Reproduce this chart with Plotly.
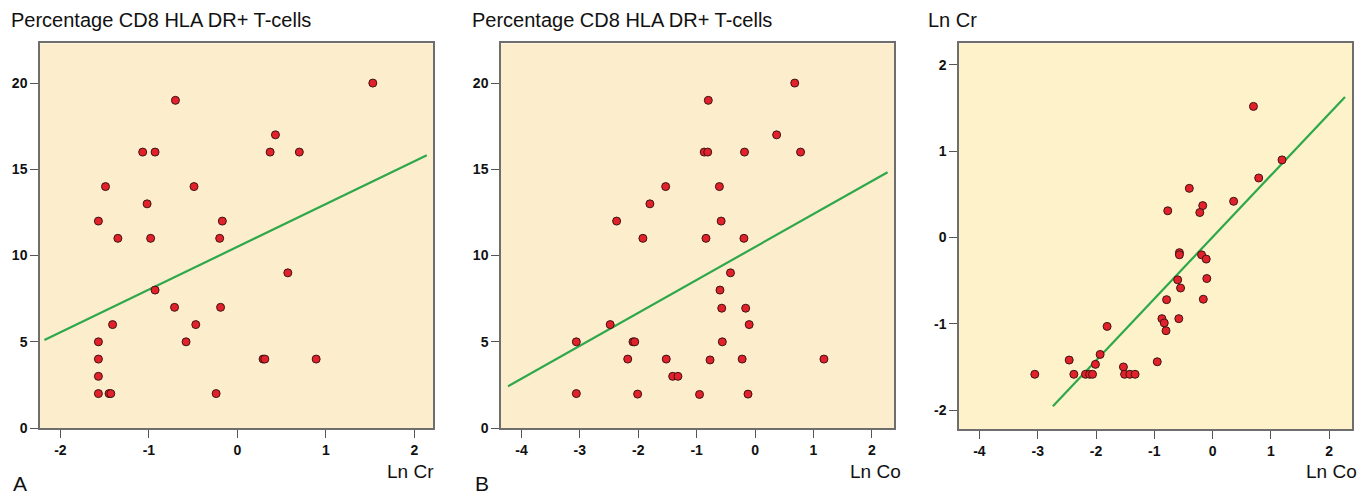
import plotly.graph_objects as go

# The page body adds an 8 px offset, so the figure is drawn 8 px smaller and
# every screen position is converted with that offset.
OFF = 8
W, H = 1371 - OFF, 502 - OFF

# ---------------- data ----------------
# Panel A: Ln Cr vs percentage CD8 HLA DR+ T-cells
a_x = [1.53, -0.70, 0.43, -1.07, -0.93, 0.37, 0.70, -1.49, -0.49, -1.02, -1.57, -0.17,
       -1.35, -0.98, -0.20, 0.57, -0.93, -0.71, -0.19, -1.41, -0.47, -1.57, -0.58, -1.57,
       0.29, 0.31, 0.89, -1.57, -1.57, -1.45, -1.43, -0.24]
a_y = [20, 19, 17, 16, 16, 16, 16, 14, 14, 13, 12, 12,
       11, 11, 11, 9, 8, 7, 7, 6, 6, 5, 5, 4,
       4, 4, 4, 3, 2, 2, 2, 2]
a_fit_x = [-2.18, 2.14]
a_fit_y = [5.10, 15.82]

# Panel B: Ln Co vs percentage CD8 HLA DR+ T-cells
b_x = [0.68, -0.80, 0.37, -0.87, -0.81, -0.18, 0.78, -1.53, -0.61, -1.80, -2.37, -0.58,
       -1.92, -0.84, -0.19, -0.42, -0.60, -0.57, -0.16, -0.10, -2.48, -3.06, -2.09, -2.06,
       -0.56, -2.18, -1.52, -0.77, -0.22, 1.18, -1.41, -1.32, -3.06, -2.01, -0.95, -0.12]
b_y = [20, 19, 17, 16, 16, 16, 16, 14, 14, 13, 12, 12,
       11, 11, 11, 9, 8, 6.95, 6.95, 6, 6, 5, 5, 5,
       5, 4, 4, 3.95, 4, 4, 3, 3, 2, 1.97, 1.95, 1.97]
b_fit_x = [-4.23, 2.27]
b_fit_y = [2.42, 14.83]

# Panel C: Ln Co vs Ln Cr
c_x = [0.70, 1.19, 0.79, -0.40, 0.36, -0.17, -0.77, -0.22, -0.57, -0.57, -0.19, -0.11,
       -0.60, -0.10, -0.55, -0.79, -0.16, -0.87, -0.58, -0.83, -0.80, -1.81, -1.93, -2.01,
       -2.46, -0.95, -1.53, -3.05, -2.38, -2.18, -2.11, -2.06, -1.51, -1.42, -1.33]
c_y = [1.52, 0.90, 0.69, 0.57, 0.42, 0.37, 0.31, 0.29, -0.175, -0.20, -0.20, -0.25,
       -0.49, -0.475, -0.585, -0.72, -0.715, -0.94, -0.94, -0.99, -1.08, -1.03, -1.355, -1.47,
       -1.42, -1.44, -1.50, -1.585, -1.585, -1.585, -1.585, -1.585, -1.585, -1.585, -1.585]
c_fit_x = [-2.74, 2.27]
c_fit_y = [-1.955, 1.63]

titles = ["Percentage CD8 HLA DR+ T-cells", "Percentage CD8 HLA DR+ T-cells", "Ln Cr"]
xlabels = ["Ln Cr", "Ln Co", "Ln Co"]
panel_letters = ["A", "B"]

a_xticks = [-2, -1, 0, 1, 2]
bc_xticks = [-4, -3, -2, -1, 0, 1, 2]
ab_yticks = [0, 5, 10, 15, 20]
c_yticks = [-2, -1, 0, 1, 2]

# ---------------- style ----------------
FONT = "Liberation Sans, Arial, Helvetica, sans-serif"
PT_FILL = "#E3212B"
PT_LINE = "#3d1414"
GREEN = "#2EA84B"
BG_AB = "#FCEDCD"
BG_C = "#FDF2CA"
FRAME = "#6e6e6e"


def px_x(s):
    return (s - OFF) / W


def px_y(s):
    return 1 - (s - OFF) / H


def labels(vals):
    return [str(v) for v in vals]  # plain hyphen minus, as in the original


fig = go.Figure()

panels = [
    (a_x, a_y, a_fit_x, a_fit_y, "x", "y"),
    (b_x, b_y, b_fit_x, b_fit_y, "x2", "y2"),
    (c_x, c_y, c_fit_x, c_fit_y, "x3", "y3"),
]
for px_, py_, fx, fy, xa, ya in panels:
    fig.add_trace(go.Scatter(x=fx, y=fy, mode="lines", xaxis=xa, yaxis=ya,
                             line=dict(color=GREEN, width=2.2), showlegend=False,
                             hoverinfo="skip"))
    fig.add_trace(go.Scatter(x=px_, y=py_, mode="markers", xaxis=xa, yaxis=ya,
                             marker=dict(size=8, color=PT_FILL,
                                         line=dict(color=PT_LINE, width=1)),
                             showlegend=False))

axis_common = dict(
    showline=True, mirror=True, linecolor=FRAME, linewidth=1.5,
    ticks="outside", ticklen=8, tickwidth=1.2, tickcolor="#555555",
    showgrid=False, zeroline=False,
    tickfont=dict(family=FONT, size=14, color="#111111", weight="bold"),
)

dom_ab_y = [px_y(435), px_y(44)]
dom_c_y = [px_y(436), px_y(44)]

fig.update_layout(
    width=W, height=H,
    margin=dict(l=0, r=0, t=0, b=0),
    paper_bgcolor="white",
    plot_bgcolor=BG_AB,
    xaxis=dict(domain=[px_x(40), px_x(433)], range=[-2.23, 2.21], tickvals=a_xticks,
               ticktext=labels(a_xticks), anchor="y", **axis_common),
    yaxis=dict(domain=dom_ab_y, range=[0, 22.3], tickvals=ab_yticks,
               ticktext=labels(ab_yticks), anchor="x", **axis_common),
    xaxis2=dict(domain=[px_x(501), px_x(894)], range=[-4.35, 2.38], tickvals=bc_xticks,
                ticktext=labels(bc_xticks), anchor="y2", **axis_common),
    yaxis2=dict(domain=dom_ab_y, range=[0, 22.3], tickvals=ab_yticks,
                ticktext=labels(ab_yticks), anchor="x2", **axis_common),
    xaxis3=dict(domain=[px_x(959), px_x(1352)], range=[-4.35, 2.39], tickvals=bc_xticks,
                ticktext=labels(bc_xticks), anchor="y3", **axis_common),
    yaxis3=dict(domain=dom_c_y, range=[-2.22, 2.25], tickvals=c_yticks,
                ticktext=labels(c_yticks), anchor="x3", **axis_common),
)

# slightly different background tint for panel C
fig.add_shape(type="rect", xref="x3 domain", yref="y3 domain", x0=0, x1=1, y0=0, y1=1,
              fillcolor=BG_C, line=dict(width=0), layer="below")

# panel titles (y-axis labels at the top left)
title_x = [9, 470, 926]
for t, xp in zip(titles, title_x):
    fig.add_annotation(text=t, x=px_x(xp), y=px_y(20), xref="paper", yref="paper",
                       xanchor="left", yanchor="middle", showarrow=False,
                       font=dict(family=FONT, size=20, color="#111111"))

# x-axis labels at the bottom right
xlabel_x = [436, 903, 1359]
for t, xp in zip(xlabels, xlabel_x):
    fig.add_annotation(text=t, x=px_x(xp), y=px_y(479), xref="paper", yref="paper",
                       xanchor="right", yanchor="middle", showarrow=False,
                       font=dict(family=FONT, size=19, color="#111111"))

# panel letters
letter_x = [11, 473]
for t, xp in zip(panel_letters, letter_x):
    fig.add_annotation(text=t, x=px_x(xp), y=px_y(491), xref="paper", yref="paper",
                       xanchor="left", yanchor="middle", showarrow=False,
                       font=dict(family=FONT, size=21, color="#111111"))

fig.write_html("out.html")
